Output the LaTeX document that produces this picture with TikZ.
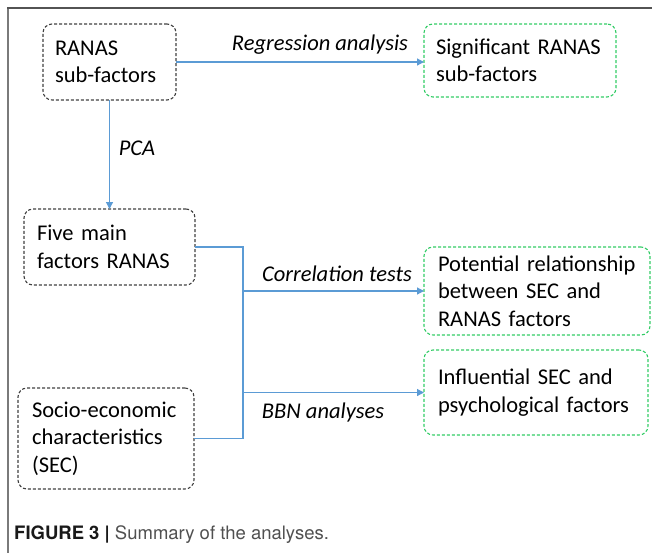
\documentclass[tikz,border=0pt]{standalone}
\usepackage{fontspec}
\setmainfont{Carlito}
\newfontfamily\capfont{TeX Gyre Heros}
\usetikzlibrary{arrows.meta}

\definecolor{boxgray}{HTML}{404040}
\definecolor{boxgreen}{HTML}{33CC66}
\definecolor{linkblue}{HTML}{5B9BD5}
\definecolor{framegray}{HTML}{7A7A7A}
\definecolor{captext}{HTML}{505050}

\tikzset{
  basebox/.style={draw, rounded corners=9pt, line width=1.1pt,
    dash pattern=on 3pt off 2pt, align=left, inner ysep=0pt,
    outer sep=0pt, font=\fontsize{22.5}{27.5}\selectfont, text=black},
  graybox/.style={basebox, draw=boxgray},
  greenbox/.style={basebox, draw=boxgreen},
  link/.style={draw=linkblue, line width=1.2pt},
  arrowlink/.style={link, -{Triangle[length=7pt,width=7pt]}},
  steplabel/.style={font=\fontsize{22.5}{27.5}\selectfont\itshape, inner sep=0pt}
}

\begin{document}
\begin{tikzpicture}[x=1pt, y=1pt]
  \useasboundingbox (0,0) rectangle (652,-552);

  % outer frame
  \draw[framegray, line width=2pt] (8,-560) -- (8,-8);
  \draw[boxgray!90, line width=1.4pt] (7,-8) -- (660,-8);

  % boxes
  \node[graybox, minimum width=133pt, minimum height=76pt, inner xsep=12pt,
        text width=109pt] (b1) at (109.5,-62) {RANAS\\sub-factors};
  \node[greenbox, minimum width=192pt, minimum height=73pt, inner xsep=12pt,
        text width=168pt] (b2) at (520,-60.5) {Significant RANAS\\sub-factors};
  \node[graybox, minimum width=171pt, minimum height=76pt, inner xsep=13pt,
        text width=145pt] (b3) at (109.5,-247) {Five main\\factors RANAS};
  \node[greenbox, minimum width=226pt, minimum height=88pt, inner xsep=14pt,
        text width=198pt] (b4) at (537,-291) {Potential relationship\\between SEC and\\RANAS factors};
  \node[greenbox, minimum width=224pt, minimum height=85pt, inner xsep=14pt,
        text width=196pt] (b5) at (536,-392.5) {Influential SEC and\\psychological factors};
  \node[graybox, minimum width=176pt, minimum height=101pt, inner xsep=14pt,
        text width=148pt] (b6) at (106,-438.5) {Socio-economic\\characteristics\\(SEC)};

  % junction column of the merged connector
  \coordinate (jx) at (243,-300);
  \coordinate (j1) at (jx |- b4.west);
  \coordinate (j2) at (jx |- b5.west);

  % connectors
  \draw[arrowlink] (b1.east) -- (b2.west |- b1.east);
  \draw[arrowlink] (b1.south) -- (b3.north);
  \draw[link] (b3.east) -- (b3.east -| jx) |- (b6.east);
  \draw[arrowlink] (j1) -- (b4.west);
  \draw[arrowlink] (j2) -- (b5.west);

  % connector labels
  \node[steplabel] (lreg) at (320,-45) {Regression analysis};
  \node[steplabel] (lpca) at (137,-148) {PCA};
  \node[steplabel] (lcor) at (337,-274) {Correlation tests};
  \node[steplabel] (lbbn) at (323,-412) {BBN analyses};

  % caption
  \node[anchor=west, inner sep=0pt, text=captext,
        font=\capfont\fontsize{18.5}{22}\selectfont] (cap) at (14,-535)
        {\textcolor{black!90}{\textbf{FIGURE 3 |}} Summary of the analyses.};
\end{tikzpicture}
\end{document}
